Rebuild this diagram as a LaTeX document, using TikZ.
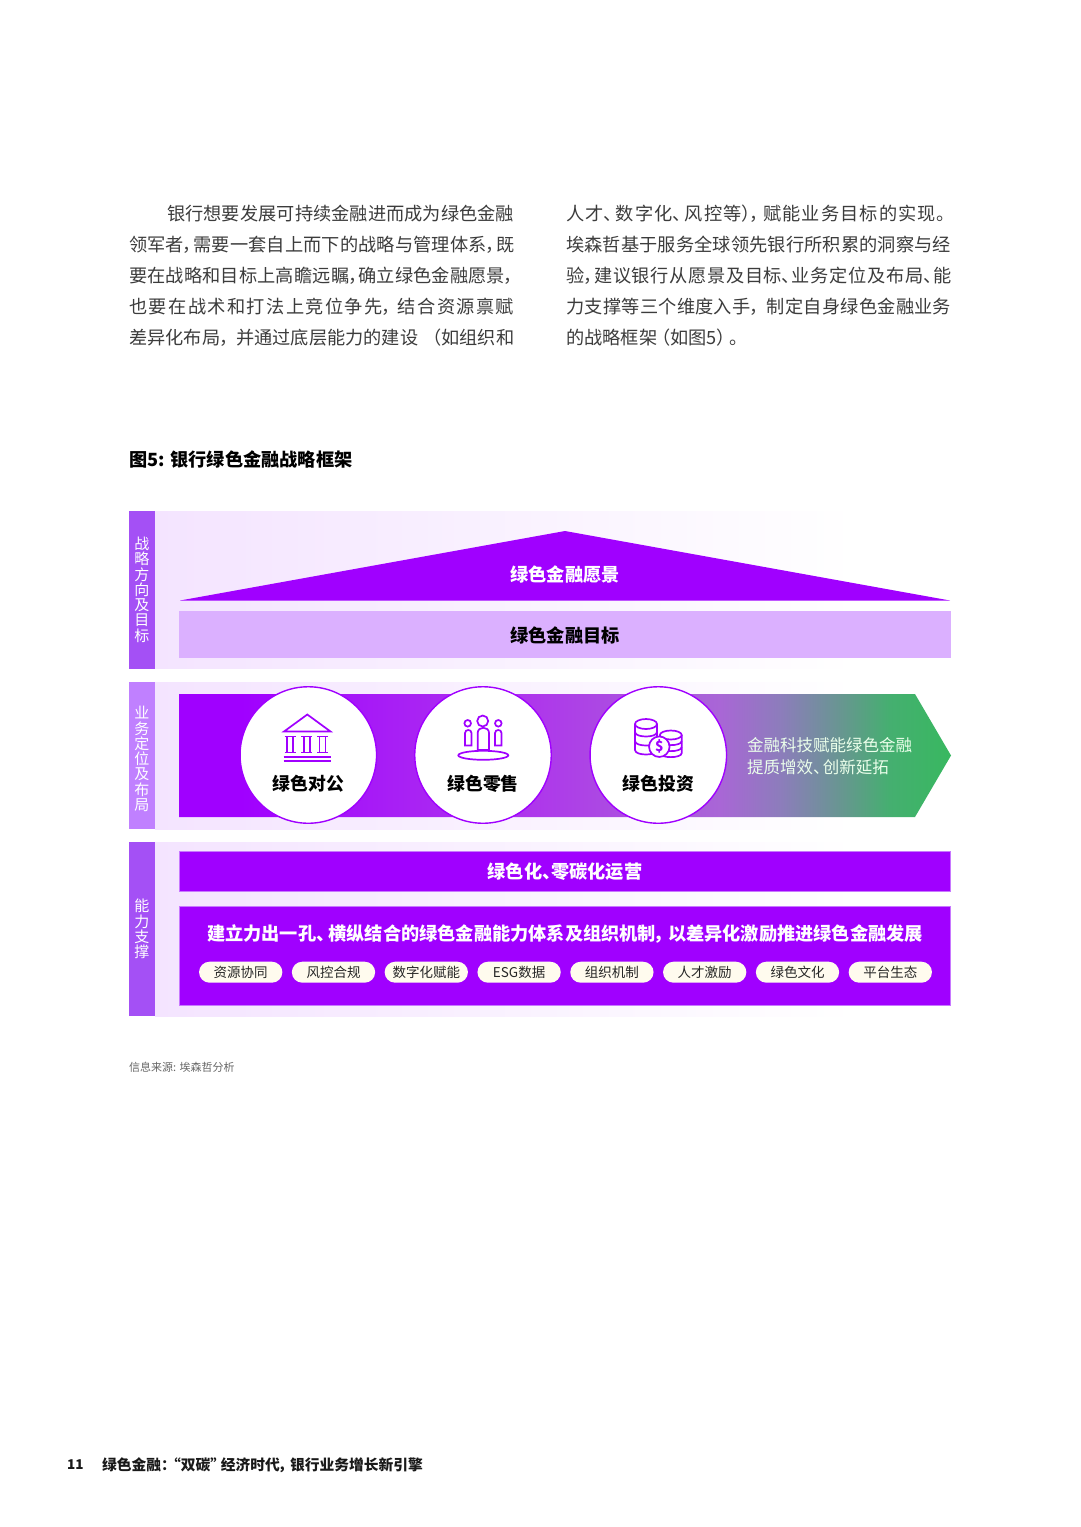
\documentclass[tikz,border=0pt]{standalone}
\usepackage{fontspec}
\setmainfont{Noto Sans CJK SC}[RawFeature=+palt]
\XeTeXlinebreaklocale "zh"
\XeTeXlinebreakskip=0pt plus 3pt
\usetikzlibrary{positioning, calc}

\definecolor{violet}{HTML}{A000FF}
\definecolor{sidedark}{HTML}{A450F5}
\definecolor{sidelight}{HTML}{C080FF}
\definecolor{panel}{HTML}{F4E4FF}
\definecolor{goalfill}{HTML}{DBB0FF}
\definecolor{edge}{HTML}{C878FF}
\definecolor{pillfill}{HTML}{FFFBEE}
\definecolor{bodygray}{HTML}{3C3C3C}

% stops 25bp to 75bp span the arrow from tail to tip
\pgfdeclarehorizontalshading{bizgrad}{100bp}{
    color(0bp)=(violet);
    color(29bp)=(violet);
    color(39bp)=(rgb,255:red,168;green,31;blue,245);
    color(48bp)=(rgb,255:red,174;green,55;blue,235);
    color(60bp)=(rgb,255:red,169;green,102;blue,214);
    color(64bp)=(rgb,255:red,140;green,125;blue,187);
    color(68bp)=(rgb,255:red,102;green,151;blue,143);
    color(71bp)=(rgb,255:red,69;green,175;blue,112);
    color(75bp)=(rgb,255:red,56;green,184;blue,96);
    color(100bp)=(rgb,255:red,56;green,184;blue,96)
}

\begin{document}
\begin{tikzpicture}[
    x=1pt, y=-1pt,
    bodytext/.style={
        text=bodygray,
        inner sep=0pt,
        text width=385pt,
        align=justify,
        font=\fontsize{18.2}{31}\selectfont
    },
    sidebar/.style={
        rectangle,
        inner sep=0pt,
        minimum width=26.5pt
    },
    sidetext/.style={
        inner sep=0pt,
        text=white,
        align=center,
        font=\fontsize{15}{15.25}\selectfont
    },
    bar/.style={
        rectangle,
        inner sep=0pt,
        minimum width=771.4pt,
        fill=violet,
        draw=edge,
        line width=0.6pt
    },
    headtext/.style={
        inner sep=0pt,
        text=white,
        font=\fontsize{18.2}{22}\selectfont\bfseries
    },
    hub/.style={
        circle,
        inner sep=0pt,
        minimum size=136.5pt,
        fill=white,
        draw=violet,
        line width=1.4pt
    },
    hublabel/.style={
        inner sep=0pt,
        text=black,
        font=\fontsize{17.8}{22}\selectfont\bfseries
    },
    icon/.style={
        draw=violet,
        line width=1.7pt,
        fill=white
    },
    iconline/.style={
        draw=violet,
        line width=1.7pt
    },
    pill/.style={
        rectangle,
        rounded corners=10.5pt,
        inner sep=0pt,
        minimum width=83.3pt,
        minimum height=21pt,
        fill=pillfill,
        text=black!85,
        font=\fontsize{13.5}{16}\selectfont
    }
]
    \path[use as bounding box, fill=white] (0,0) rectangle (1080,1527);

    % Text above the figure
    \node[bodytext, anchor=west] (introleft) at (129,276) {\hspace*{38pt}银行想要发展可持续金融进而成为绿色金融\linebreak
        领军者，需要一套自上而下的战略与管理体系，既\linebreak
        要在战略和目标上高瞻远瞩，确立绿色金融愿景，\linebreak
        也要在战术和打法上竞位争先，\hspace{6pt}结合资源禀赋\linebreak
        差异化布局，\hspace{7pt}并通过底层能力的建设\hspace{14pt}（如组织和};
    \node[bodytext, anchor=west] (introright) at (566,276) {人才、\hspace{3pt}数字化、\hspace{3pt}风控等），\hspace{3pt}赋能业务目标的实现。\hspace*{6pt}\linebreak
        埃森哲基于服务全球领先银行所积累的洞察与经\linebreak
        验，建议银行从愿景及目标、业务定位及布局、能\linebreak
        力支撑等三个维度入手，\hspace{7pt}制定自身绿色金融业务\linebreak
        的战略框架\hspace{4pt}（如图5）\hspace{3pt}。};
    \node[anchor=west, inner sep=0pt, text=black, font=\fontsize{18.2}{22}\selectfont\bfseries] (figtitle) at (129,460) {图5: 银行绿色金融战略框架};

    % Background panels, fading out to the right
    \shade[left color=panel, right color=white] (155,511) rectangle (855,668.5);
    \shade[left color=panel, right color=white] (155,682) rectangle (855,829);
    \shade[left color=panel, right color=white] (155,842) rectangle (855,1016);

    % Side labels
    \node[sidebar, fill=sidedark, minimum height=157.5pt] (sidegoal) at (141.75,589.75) {};
    \node[sidebar, fill=sidelight, minimum height=147pt] (sidebiz) at (141.75,755.5) {};
    \node[sidebar, fill=sidedark, minimum height=174pt] (sidecap) at (141.75,929) {};
    \node[sidetext] (goaltext) at (141.75,589.75) {战\\略\\方\\向\\及\\目\\标};
    \node[sidetext] (biztext) at (141.75,759) {业\\务\\定\\位\\及\\布\\局};
    \node[sidetext] (captext) at (141.75,929) {能\\力\\支\\撑};

    % 1st row
    \fill[violet] (180,600.5) -- (565,531) -- (950,600.5) -- cycle;
    \node[headtext] (vision) at (565,574.5) {绿色金融愿景};
    \node[rectangle, inner sep=0pt, minimum width=772pt, minimum height=46.5pt, fill=goalfill] (goal) at (565,634.5) {};
    \node[headtext, text=black] (goaltitle) at (565,635) {绿色金融目标};

    % 2nd row
    \shade[shading=bizgrad] (179,694) -- (915,694) -- (951,755.5) -- (915,817) -- (179,817) -- cycle;
    \node[hub] (corp) at (308.3,755) {};
    \node[hub] (retail) at (483,755) {};
    \node[hub] (invest) at (658.3,755) {};
    \node[hublabel] (corplabel) at (308.3,784) {绿色对公};
    \node[hublabel] (retaillabel) at (483,784) {绿色零售};
    \node[hublabel] (investlabel) at (658.3,784) {绿色投资};
    \node[anchor=west, inner sep=0pt, align=left, text=white!92!green, font=\fontsize{16.5}{22}\selectfont] (fintech) at (747,756) {金融科技赋能绿色金融\\提质增效、\hspace{1.5pt}创新延拓};

    % Bank icon
    \draw[icon, line join=miter] (284,731.5) -- (307.3,714.5) -- (330.5,731.5) -- cycle;
    \foreach \cx in {290,306.7,322.5} {
        \draw[icon] (\cx-3,736.5) rectangle (\cx+3,752.5);
        \draw[iconline] (\cx-5.5,736.5) -- (\cx+5.5,736.5);
        \draw[iconline] (\cx-5.5,752.5) -- (\cx+5.5,752.5);
    }
    \draw[iconline] (283.5,757) -- (331,757);
    \draw[iconline] (283.5,761) -- (331,761);

    % People icon
    \draw[icon] (483.3,755.3) ellipse (25 and 4.5);
    \draw[icon] (482.7,721) circle (5.5);
    \draw[icon] (467.7,723.3) circle (3.3);
    \draw[icon] (498.3,723.3) circle (3.3);
    \draw[icon] (477.7,750) -- (477.7,733) .. controls (477.7,726) and (489,726) .. (489,733) -- (489,750) -- cycle;
    \draw[icon] (465,745.5) -- (465,733) .. controls (465,729) and (471.5,729) .. (471.5,733) -- (471.5,745.5) -- cycle;
    \draw[icon] (495,745.5) -- (495,733) .. controls (495,729) and (501.5,729) .. (501.5,733) -- (501.5,745.5) -- cycle;

    % Coins icon
    \draw[icon] (635,724) -- (635,750) .. controls (635,756) and (657,756) .. (657,750) -- (657,724);
    \draw[icon] (646,724) ellipse (11 and 5);
    \foreach \yy in {732,741} {
        \draw[iconline] (635,\yy) .. controls (635,\yy+6) and (657,\yy+6) .. (657,\yy);
    }
    \draw[icon] (660,735) -- (660,753) .. controls (660,758.5) and (681.7,758.5) .. (681.7,753) -- (681.7,735);
    \draw[icon] (670.8,735) ellipse (10.9 and 4.5);
    \foreach \yy in {741,747} {
        \draw[iconline] (660,\yy) .. controls (660,\yy+5.5) and (681.7,\yy+5.5) .. (681.7,\yy);
    }
    \node[circle, icon, inner sep=0pt, minimum size=20.5pt, text=violet, font=\fontsize{14}{16}\selectfont\bfseries] (coin) at (659.3,746.7) {\$};

    % 3rd row
    \node[bar, minimum height=40pt] (carbon) at (565,871) {};
    \node[headtext] (carbonlabel) at (565,872) {绿色化、零碳化运营};
    \node[bar, minimum height=98.5pt] (capbox) at (565,955.75) {};
    \node[headtext] (captitle) at (565,933.5) {建立力出一孔、\hspace{3pt}横纵结合的绿色金融能力体系及组织机制，\hspace{3pt}以差异化激励推进绿色金融发展};
    \foreach \i/\pilltext in {0/资源协同, 1/风控合规, 2/数字化赋能, 3/ESG数据, 4/组织机制, 5/人才激励, 6/绿色文化, 7/平台生态} {
        \node[pill] (pill\i) at ({240.7+92.8*\i},972.2) {\pilltext};
    }

    % Source and footer
    \node[anchor=west, inner sep=0pt, text=black!60, font=\fontsize{11}{13}\selectfont] (source) at (129,1067) {信息来源: 埃森哲分析};
    \node[anchor=west, inner sep=0pt, text=black!90, font=\fontsize{13.5}{18}\selectfont\bfseries] (pagenum) at (67,1465) {11};
    \node[anchor=west, inner sep=0pt, text=black!90, font=\fontsize{14.75}{18}\selectfont\bfseries] (footer) at (102,1465) {绿色金融：\hspace{5pt}“双碳”\hspace{3pt}经济时代，\hspace{3pt}银行业务增长新引擎};

\end{tikzpicture}
\end{document}
